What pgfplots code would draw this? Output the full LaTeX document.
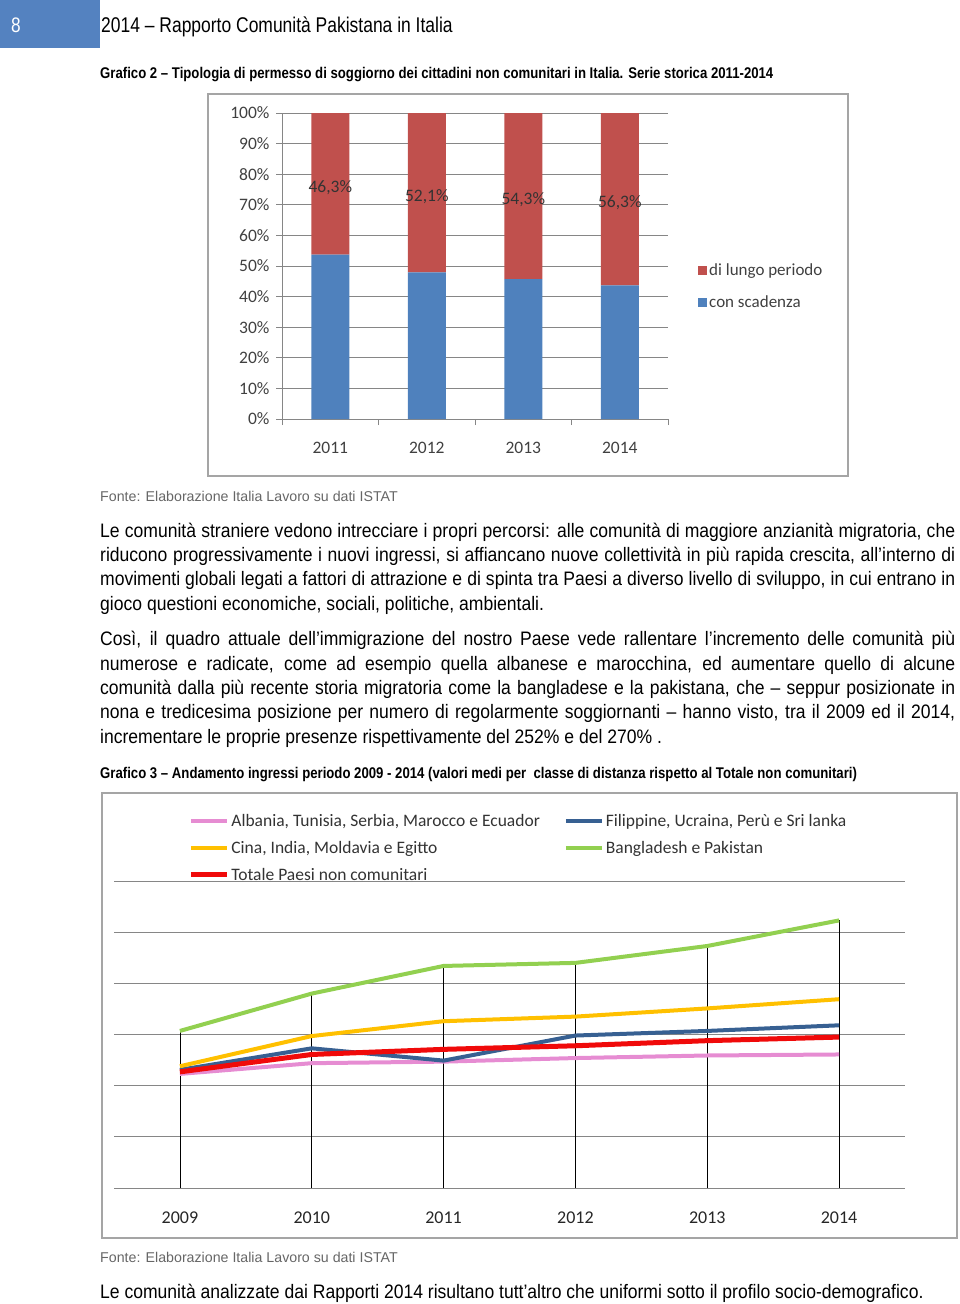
\documentclass[border=0pt]{standalone}
\usepackage{fontspec}
\setmainfont{Liberation Sans}
\newfontfamily\narrow[FakeStretch=0.82]{Liberation Sans}
\newfontfamily\body[FakeStretch=0.9]{Liberation Sans}
\newfontfamily\capt[FakeStretch=0.85]{Liberation Sans}
\newfontfamily\calibri{Carlito}
\usepackage{pgfplots}
\pgfplotsset{compat=1.18}

\definecolor{hdrblue}{RGB}{84,130,192}
\definecolor{barred}{RGB}{192,80,77}
\definecolor{barblue}{RGB}{79,129,189}
\definecolor{gridgray}{RGB}{134,134,134}
\definecolor{framegray}{RGB}{165,165,165}
\definecolor{lpink}{RGB}{230,140,210}
\definecolor{lblue}{RGB}{55,96,146}
\definecolor{lyellow}{RGB}{255,192,0}
\definecolor{lgreen}{RGB}{146,208,80}
\definecolor{lred}{RGB}{240,10,10}

% one justified line of body text at baseline y (px)
\newcommand\jline[2]{\node[anchor=base west,inner sep=0pt] at (100,#1) {\makebox[855pt][s]{#2}};}
\newcommand\pline[2]{\node[anchor=base west,inner sep=0pt] at (100,#1) {#2};}

\begin{document}
\begin{tikzpicture}
\begin{scope}[x=1pt,y=-1pt]
\useasboundingbox (0,0) rectangle (960,1304);
% header
\fill[hdrblue] (0,0) rectangle (100,48);
\node[anchor=base west,inner sep=0pt,text=white,font=\narrow\fontsize{21}{24}\selectfont] at (11,32) {8};
\node[anchor=base west,inner sep=0pt,font=\narrow\fontsize{21.3}{24}\selectfont] at (101,32) {2014 – Rapporto Comunità Pakistana in Italia};
\node[anchor=base west,inner sep=0pt,font=\capt\bfseries\fontsize{15.5}{18}\selectfont] at (100,78) {Grafico 2 – Tipologia di permesso di soggiorno dei cittadini non comunitari in Italia. Serie storica 2011-2014};
% frames
\draw[framegray,line width=2pt] (208,94) rectangle (848,476);
\draw[framegray,line width=2pt] (102,793) rectangle (957,1238);
% sources
\node[anchor=base west,inner sep=0pt,text=black!60,font=\fontsize{14.2}{16}\selectfont] at (100,501) {Fonte: Elaborazione Italia Lavoro su dati ISTAT};
\node[anchor=base west,inner sep=0pt,text=black!60,font=\fontsize{14.2}{16}\selectfont] at (100,1262) {Fonte: Elaborazione Italia Lavoro su dati ISTAT};
% body text
\begin{scope}[every node/.style={font=\body\fontsize{19.5}{23}\selectfont}]
\jline{537}{Le comunità straniere vedono intrecciare i propri percorsi: alle comunità di maggiore anzianità migratoria, che}
\jline{561}{riducono progressivamente i nuovi ingressi, si affiancano nuove collettività in più rapida crescita, all’interno di}
\jline{585}{movimenti globali legati a fattori di attrazione e di spinta tra Paesi a diverso livello di sviluppo, in cui entrano in}
\pline{610}{gioco questioni economiche, sociali, politiche, ambientali.}
\jline{645}{Così, il quadro attuale dell’immigrazione del nostro Paese vede rallentare l’incremento delle comunità più}
\jline{670}{numerose e radicate, come ad esempio quella albanese e marocchina, ed aumentare quello di alcune}
\jline{694}{comunità dalla più recente storia migratoria come la bangladese e la pakistana, che – seppur posizionate in}
\jline{718}{nona e tredicesima posizione per numero di regolarmente soggiornanti – hanno visto, tra il 2009 ed il 2014,}
\pline{743}{incrementare le proprie presenze rispettivamente del 252\% e del 270\% .}
\pline{1298}{Le comunità analizzate dai Rapporti 2014 risultano tutt’altro che uniformi sotto il profilo socio-demografico.}
\end{scope}
\node[anchor=base west,inner sep=0pt,font=\capt\bfseries\fontsize{15.5}{18}\selectfont] at (100,778) {Grafico 3 – Andamento ingressi periodo 2009 - 2014 (valori medi per\ \ classe di distanza rispetto al Totale non comunitari)};
\end{scope}

% Grafico 2
\begin{axis}[at={(282pt,-419pt)}, anchor=south west, scale only axis,
  width=386pt, height=306pt,
  /pgf/number format/assume math mode=true,
  ybar stacked, bar width=38pt,
  xmin=-0.5, xmax=3.5, ymin=0, ymax=100,
  xtick={0,1,2,3}, xticklabels={2011,2012,2013,2014},
  ytick={0,10,...,100}, yticklabel={\pgfmathprintnumber{\tick}\%},
  axis x line*=bottom, axis y line*=left,
  axis line style={draw=gridgray, line width=1pt},
  ymajorgrids, grid style={gridgray, line width=1pt},
  tick label style={font=\calibri\fontsize{17.5}{18}\selectfont, text=black!75},
  tick align=outside, major tick length=6pt,
  xtick style={draw=none}, ytick style={draw=gridgray, line width=1pt},
  xticklabel style={yshift=-14pt},
  yticklabel style={xshift=-3pt},
  extra x ticks={-0.5,0.5,1.5,2.5,3.5}, extra x tick labels={},
  extra x tick style={grid=none, xtick style={draw=gridgray, line width=1pt}},
  legend style={at={(1.07,0.52)}, anchor=north west, draw=none, fill=none,
    font=\calibri\fontsize{17}{18}\selectfont, text=black!75, row sep=14pt},
  legend cell align=left, reverse legend,
  legend image code/.code={\fill[#1] (0pt,-4.5pt) rectangle (9pt,4.5pt);},
]
\addplot[fill=barblue, draw=none] coordinates {(0,53.7) (1,47.9) (2,45.7) (3,43.7)};
\addplot[fill=barred, draw=none,
  visualization depends on=rawy \as \rawy,
  nodes near coords={\pgfmathprintnumber[fixed,fixed zerofill,precision=1,use comma]{\rawy}\%},
  every node near coord/.append style={anchor=center, text=black!80, yshift=-4pt,
    font=\calibri\fontsize{17.5}{18}\selectfont},
] coordinates {(0,46.3) (1,52.1) (2,54.3) (3,56.3)};
\legend{con scadenza, di lungo periodo}
\end{axis}

% Grafico 3
\begin{axis}[at={(114pt,-1188pt)}, anchor=south west, scale only axis,
  width=791pt, height=307pt,
  xmin=-0.5, xmax=5.5, ymin=0, ymax=6,
  xtick={0,...,5}, xticklabels={2009,2010,2011,2012,2013,2014},
  ytick={0,...,6}, yticklabels={},
  ymajorgrids, grid style={gridgray, line width=1pt},
  axis line style={draw=none}, tick style={draw=none},
  xticklabel style={font=\calibri\fontsize{18}{18}\selectfont, text=black!85, yshift=-20pt},
  legend columns=2,
  legend style={at={(0.09,1.23)}, anchor=north west, draw=none, fill=none,
    font=\calibri\fontsize{17.5}{18}\selectfont, text=black!80, row sep=9pt,
    /tikz/column 2/.style={column sep=22pt}},
  legend cell align=left,
  legend image code/.code={\draw[#1] (0pt,0pt) -- (36pt,0pt);},
  every axis plot/.append style={line join=round},
]
\addplot[ycomb, black, line width=0.8pt, forget plot] coordinates {(0,3.07) (1,3.80) (2,4.34) (3,4.40) (4,4.73) (5,5.23)};
\addplot[lpink, line width=4pt] coordinates {(0,2.23) (1,2.44) (2,2.47) (3,2.54) (4,2.59) (5,2.61)};
\addplot[lblue, line width=4pt] coordinates {(0,2.31) (1,2.73) (2,2.49) (3,2.98) (4,3.07) (5,3.18)};
\addplot[lyellow, line width=4pt] coordinates {(0,2.38) (1,2.97) (2,3.26) (3,3.35) (4,3.51) (5,3.69)};
\addplot[lgreen, line width=4pt] coordinates {(0,3.07) (1,3.80) (2,4.34) (3,4.40) (4,4.73) (5,5.23)};
\addplot[lred, line width=5pt] coordinates {(0,2.27) (1,2.61) (2,2.71) (3,2.78) (4,2.88) (5,2.95)};
\legend{{Albania, Tunisia, Serbia, Marocco e Ecuador},{Filippine, Ucraina, Perù e Sri lanka},{Cina, India, Moldavia e Egitto},{Bangladesh e Pakistan},{Totale Paesi non comunitari}}
\end{axis}
\end{tikzpicture}
\end{document}
